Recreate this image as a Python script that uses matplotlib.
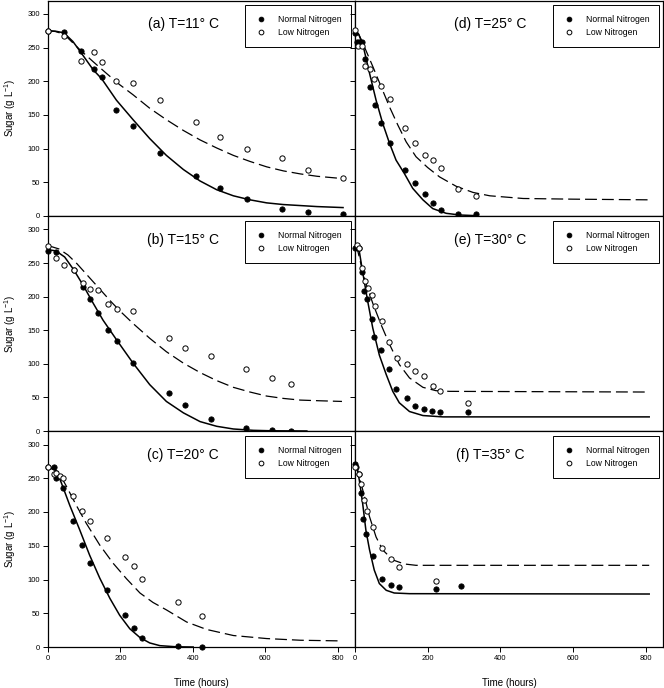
import matplotlib
matplotlib.use("Agg")
from matplotlib import pyplot as plt

plt.rcParams['font.family'] = ['Liberation Sans', 'DejaVu Sans']
plt.rcParams['mathtext.fontset'] = 'custom'
plt.rcParams['mathtext.rm'] = 'Liberation Sans'
plt.rcParams['mathtext.default'] = 'regular'

# ---- (a) T=11 C ----
a_norm_t = [0, 44, 90, 126, 148, 189, 235, 308, 409, 475, 550, 647, 718, 815]
a_norm_s = [275, 273, 245, 218, 206, 158, 133, 93, 59, 42, 25, 11, 6, 3]
a_low_t = [0, 44, 90, 126, 148, 189, 235, 308, 409, 475, 550, 647, 718, 815]
a_low_s = [275, 268, 230, 243, 228, 200, 197, 172, 140, 117, 100, 86, 69, 56]
a_fitn_t = [0, 20, 44, 69, 92, 125, 148, 189, 235, 281, 327, 374, 420, 466, 512, 558, 604, 650, 697, 743, 815]
a_fitn_s = [275, 274.5, 272, 259, 242, 217, 204, 172, 143, 115, 90, 69, 52, 39, 30, 24, 19.5, 17, 15.5, 14, 12.5]
a_fitl_t = [0, 20, 44, 88, 125, 161, 198, 235, 281, 327, 374, 420, 466, 512, 558, 604, 650, 697, 743, 815]
a_fitl_s = [275, 274, 270, 247, 229, 212, 195, 180, 160, 143, 127, 113, 101, 90, 81, 73, 67, 62.5, 59, 55.5]

# ---- (b) T=15 C ----
b_norm_t = [0, 22, 71, 97, 117, 139, 166, 191, 235, 333, 378, 450, 546, 620, 671]
b_norm_s = [268, 266, 240, 215, 196, 175, 151, 134, 101, 56, 39, 18, 4, 1, 0.5]
b_low_t = [0, 22, 44, 71, 97, 117, 139, 166, 191, 235, 333, 378, 450, 546, 620, 671]
b_low_s = [276, 257, 247, 240, 221, 212, 210, 189, 182, 178, 138, 124, 112, 93, 79, 70]
b_fitn_t = [0, 22, 46, 71, 97, 125, 152, 189, 235, 281, 327, 374, 420, 466, 512, 567, 620, 715]
b_fitn_s = [270, 268, 259, 240, 217, 190, 165, 136, 101, 69, 44, 27, 14, 7, 3, 1, 0.3, 0]
b_fitl_t = [0, 30, 55, 80, 100, 125, 150, 175, 200, 235, 281, 327, 374, 420, 466, 512, 558, 604, 650, 697, 750, 812]
b_fitl_s = [276, 271, 262, 249, 237, 222, 207, 192, 178, 160, 138, 118, 101, 87, 75, 65, 58, 52, 48.5, 46, 45, 44]

# ---- (c) T=20 C ----
c_norm_t = [0, 16, 23, 41, 69, 94, 115, 162, 212, 237, 261, 358, 425]
c_norm_s = [266, 266, 250, 235, 186, 151, 125, 85, 47, 28, 13, 1, 0]
c_low_t = [0, 16, 22, 32, 41, 69, 94, 115, 162, 212, 237, 261, 358, 425]
c_low_s = [266, 256, 258, 254, 251, 224, 201, 187, 162, 134, 120, 101, 66, 46]
c_fitn_t = [0, 18, 27, 37, 60, 88, 115, 143, 171, 198, 226, 254, 281, 309, 355, 401]
c_fitn_s = [266, 265, 256, 243, 210, 173, 136, 102, 72, 47, 27, 14, 6, 2, 0.3, 0]
c_fitl_t = [0, 28, 51, 78, 106, 143, 180, 217, 254, 290, 327, 383, 438, 512, 604, 697, 812]
c_fitl_s = [266, 260, 238, 210, 183, 151, 124, 101, 80, 66, 55, 37, 26, 17, 12.5, 10, 9]

# ---- (d) T=25 C ----
d_norm_t = [0, 5, 12, 19, 28, 42, 54, 72, 96, 137, 164, 192, 214, 238, 283, 332]
d_norm_s = [271, 258, 258, 258, 233, 191, 165, 138, 109, 68, 49, 32, 19, 9, 3, 2.5]
d_low_t = [0, 7, 18, 28, 41, 53, 72, 96, 137, 164, 192, 214, 238, 283, 332]
d_low_s = [276, 253, 252, 222, 218, 203, 193, 173, 131, 109, 90, 83, 72, 40, 30]
d_fitn_t = [0, 10, 21, 40, 58, 76, 95, 113, 136, 159, 187, 214, 251, 288, 334]
d_fitn_s = [274, 270, 256, 212, 172, 138, 108, 83, 63, 41, 24, 11, 4, 1.5, 0.5]
d_fitl_t = [0, 10, 26, 49, 72, 95, 118, 141, 168, 200, 233, 279, 325, 371, 463, 600, 812]
d_fitl_s = [274, 270, 251, 222, 192, 162, 135, 110, 88, 72, 58, 44, 35, 30, 26, 25, 24]

# ---- (e) T=30 C ----
e_norm_t = [0, 7, 12, 19, 26, 33, 46, 53, 72, 93, 114, 143, 166, 189, 212, 235, 310]
e_norm_s = [273, 272, 273, 237, 208, 196, 166, 140, 121, 92, 63, 48.5, 37, 33, 30, 29, 28]
e_low_t = [5, 12, 19, 27, 36, 46, 54, 73, 93, 115, 143, 166, 189, 214, 235, 310]
e_low_s = [277, 272, 242, 223, 213, 203, 186, 163, 133, 109, 100, 90, 82, 67, 59, 42]
e_fitn_t = [0, 5, 12, 21, 35, 49, 67, 86, 104, 122, 150, 187, 242, 810]
e_fitn_s = [274, 273, 267, 237, 193, 153, 113, 84, 59, 42, 29, 23, 21, 21]
e_fitl_t = [0, 5, 17, 30, 49, 72, 95, 122, 150, 187, 223, 260, 810]
e_fitl_s = [276, 274, 247, 220, 190, 158, 129, 99, 79, 65, 60, 59, 58]

# ---- (f) T=35 C ----
f_norm_t = [0, 3, 10, 17, 23, 30, 49, 74, 99, 121, 223, 293]
f_norm_s = [271, 267, 257, 228, 189, 168, 135, 101, 92, 89, 86, 90]
f_low_t = [0, 10, 17, 24, 32, 49, 74, 99, 121, 223]
f_low_s = [267, 257, 242, 218, 202, 178, 146, 131, 119, 98]
f_fitn_t = [0, 5, 12, 21, 30, 40, 53, 67, 86, 108, 150, 810]
f_fitn_s = [271, 266, 247, 213, 173, 144, 114, 94, 84, 80, 79, 78.5]
f_fitl_t = [0, 5, 12, 26, 40, 58, 76, 104, 136, 168, 810]
f_fitl_s = [270, 267, 252, 223, 193, 163, 144, 129, 123, 121, 121]

titles = ['(a) T=11° C', '(b) T=15° C', '(c) T=20° C',
          '(d) T=25° C', '(e) T=30° C', '(f) T=35° C']
panels = [
    (a_norm_t, a_norm_s, a_low_t, a_low_s, a_fitn_t, a_fitn_s, a_fitl_t, a_fitl_s),
    (b_norm_t, b_norm_s, b_low_t, b_low_s, b_fitn_t, b_fitn_s, b_fitl_t, b_fitl_s),
    (c_norm_t, c_norm_s, c_low_t, c_low_s, c_fitn_t, c_fitn_s, c_fitl_t, c_fitl_s),
    (d_norm_t, d_norm_s, d_low_t, d_low_s, d_fitn_t, d_fitn_s, d_fitl_t, d_fitl_s),
    (e_norm_t, e_norm_s, e_low_t, e_low_s, e_fitn_t, e_fitn_s, e_fitl_t, e_fitl_s),
    (f_norm_t, f_norm_s, f_low_t, f_low_s, f_fitn_t, f_fitn_s, f_fitl_t, f_fitl_s),
]

W, H = 664, 688
fig = plt.figure(figsize=(W / 100, H / 100), dpi=100)

# pixel boxes: columns (left, right), rows (top, bottom)
cols = [(48, 355), (355, 663)]
rows = [(0.5, 216), (216, 431), (431, 647)]

for k, pdata in enumerate(panels):
    c, r = k // 3, k % 3
    x0, x1 = cols[c]
    y0, y1 = rows[r]
    ax = fig.add_axes([x0 / W, (H - y1) / H, (x1 - x0) / W, (y1 - y0) / H])
    nt, ns, lt, ls, fnt, fns, flt, fls = pdata

    ax.plot(fnt, fns, color='black', lw=1.1, zorder=2)
    ax.plot(flt, fls, color='black', lw=0.9, linestyle=(0, (9.5, 4)), zorder=2)
    ax.plot(nt, ns, 'o', color='black', ms=3.8, mew=0.6, ls='none',
            label='Normal Nitrogen', zorder=3, clip_on=False)
    ax.plot(lt, ls, 'o', mfc='white', mec='black', ms=3.8, mew=0.7, ls='none',
            label='Low Nitrogen', zorder=3, clip_on=False)

    ax.set_xlim(0, 848)
    ax.set_ylim(0, 320)
    ax.set_xticks([0, 200, 400, 600, 800])
    ax.set_yticks([0, 50, 100, 150, 200, 250, 300])
    ax.tick_params(direction='out', length=3.5, width=0.7, labelsize=5.5, pad=2)
    if r < 2:
        ax.tick_params(labelbottom=False)
    if c == 1:
        ax.tick_params(labelleft=False)
    for sp in ax.spines.values():
        sp.set_linewidth(0.9)

    ax.text(0.44, 0.89, titles[k], transform=ax.transAxes, ha='center', va='center',
            fontsize=10)
    leg = ax.legend(loc='upper right', bbox_to_anchor=(0.988, 0.978), fontsize=6.2,
                    frameon=True, fancybox=False, framealpha=1, edgecolor='black',
                    borderpad=1.15, labelspacing=0.5, handlelength=1.3,
                    handletextpad=1.3, borderaxespad=0, markerscale=0.9)
    leg.get_frame().set_linewidth(0.7)

    if c == 0:
        fig.text(10 / W, (H - (y0 + y1) / 2) / H, 'Sugar (g L$^{-1}$)', rotation=90,
                 ha='center', va='center', fontsize=7)
    if r == 2:
        fig.text(((x0 + x1) / 2) / W, (H - 683) / H, 'Time (hours)',
                 ha='center', va='center', fontsize=7)

fig.savefig('out.png', dpi=100)
